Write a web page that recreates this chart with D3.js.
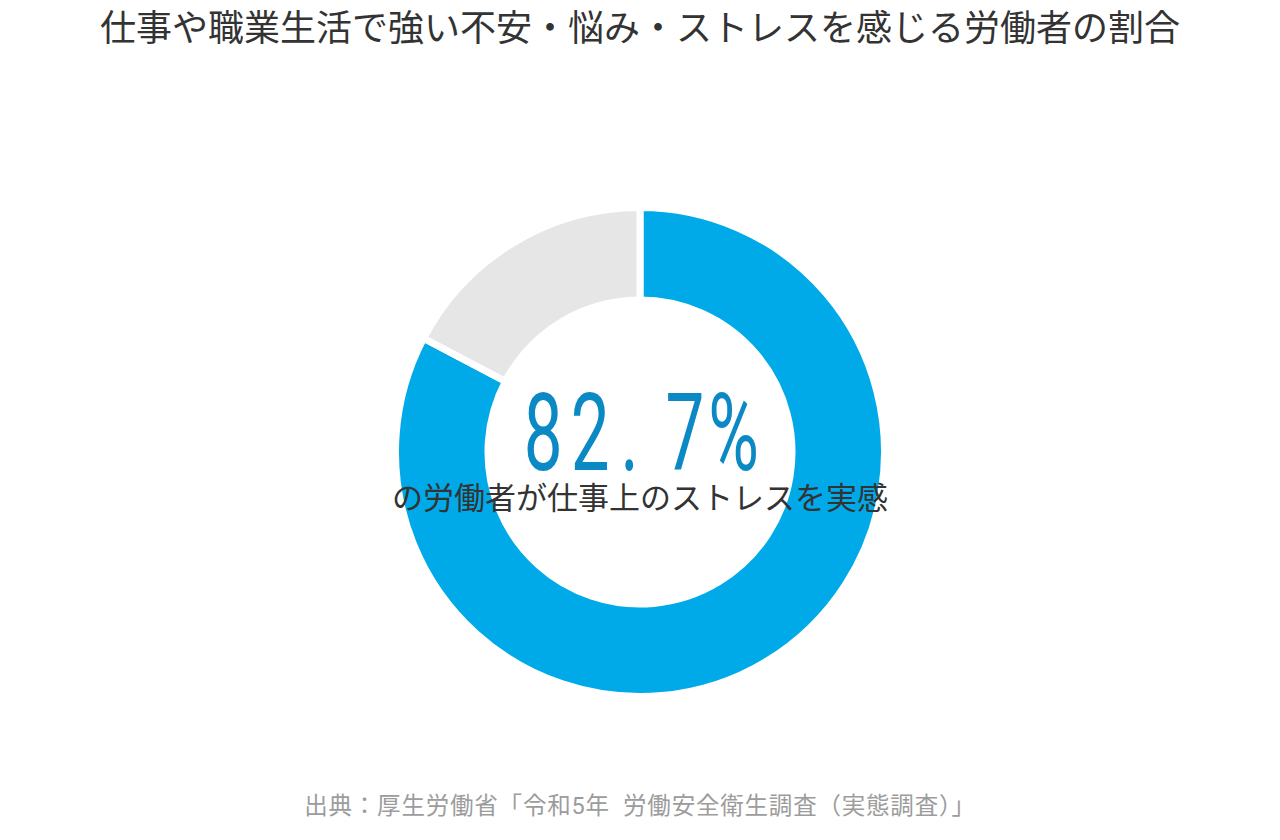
<!DOCTYPE html>
<html><head><meta charset="utf-8">
<script src="https://cdn.jsdelivr.net/npm/d3@7"></script>
<style>html,body{margin:0;padding:0;background:#fff;}svg{display:block;}</style>
</head><body>
<svg id="chart" width="1280" height="840"></svg>
<script>
const titleText = "仕事や職業生活で強い不安・悩み・ストレスを感じる労働者の割合";
const categories = ["ストレスあり", "その他"];
const values = [82.7, 17.3];
const colors = ["#00aae9", "#e6e6e6"];
const centerLabel = "の労働者が仕事上のストレスを実感";
const sourceText = "出典：厚生労働省「令和5年  労働安全衛生調査（実態調査）」";

const svg = d3.select("#chart");
const W = 1280, H = 840;
const cx = 640, cy = 452;
const font = "Roboto,'Noto Sans CJK JP','Noto Sans',sans-serif";

svg.append("rect").attr("width", W).attr("height", H).attr("fill", "#fff");

svg.append("text").attr("x", W/2).attr("y", 41).attr("text-anchor", "middle")
  .attr("font-family", font).attr("font-size", 36).attr("fill", "#333").text(titleText);

const data = categories.map((c, i) => ({cat: c, value: values[i], color: colors[i]}));
const pie = d3.pie().value(d => d.value).sort(null);
const arc = d3.arc().innerRadius(152).outerRadius(244.5);

const g = svg.append("g").attr("transform", `translate(${cx},${cy})`);
g.selectAll("path").data(pie(data)).join("path")
  .attr("d", arc).attr("fill", d => d.data.color)
  .attr("stroke", "#fff").attr("stroke-width", 7).attr("stroke-linejoin", "miter");

// big percentage label (condensed look)
const fmt = d3.format(".1f");
const chars = (fmt(values[0]) + "%").split("");
const charGap = {"8": 0, "2": 13, ".": 17, "7": 42, "%": 6};
const sx = 0.64;
const big = svg.append("text").attr("x", cx / sx + 2).attr("y", 470).attr("text-anchor", "middle")
  .attr("font-family", "Roboto, sans-serif").attr("font-size", 108).attr("fill", "#0a89c4")
  .attr("transform", `scale(${sx},1)`);
big.selectAll("tspan").data(chars).join("tspan")
  .attr("dx", (d, i) => i === 0 ? 0 : (charGap[d] ?? 8))
  .text(d => d);

svg.append("text").attr("x", cx).attr("y", 509).attr("text-anchor", "middle")
  .attr("font-family", font).attr("font-size", 31).attr("fill", "#333").text(centerLabel);

svg.append("text").attr("x", 640).attr("y", 814).attr("text-anchor", "middle")
  .attr("font-family", font).attr("font-size", 23.5).attr("letter-spacing", 0.8)
  .style("white-space", "pre").attr("fill", "#9c9c9c").text(sourceText);
</script>
</body></html>
